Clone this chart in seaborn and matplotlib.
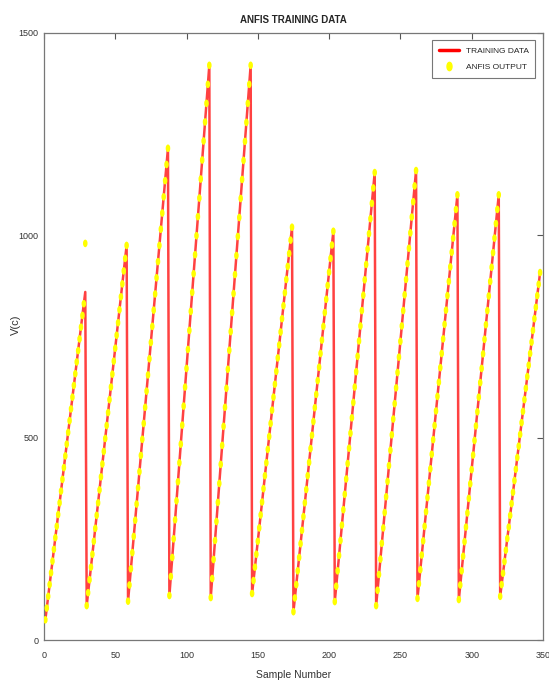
import pandas as pd
import matplotlib
matplotlib.use("Agg")
import matplotlib.pyplot as plt
import seaborn as sns
from matplotlib.path import Path
from matplotlib.transforms import Affine2D
from matplotlib.lines import Line2D

# training data, one list per sawtooth ramp
ramp1 = [50, 79, 108, 137, 166, 195, 224, 253, 281, 310, 339, 368, 397, 426, 455,
         484, 513, 542, 571, 600, 629, 658, 687, 715, 744, 773, 802, 831, 860]
ramp2 = [85, 117, 149, 180, 212, 244, 276, 308, 339, 371, 403, 435, 466, 498, 530,
         562, 594, 625, 657, 689, 721, 753, 784, 816, 848, 880, 912, 943, 975]
ramp3 = [96, 136, 176, 216, 256, 296, 336, 376, 416, 456, 496, 535, 575, 615, 655,
         695, 735, 775, 815, 855, 895, 935, 975, 1015, 1055, 1095, 1135, 1175, 1215]
ramp4 = [110, 157, 204, 250, 297, 344, 391, 438, 484, 531, 578, 625, 671, 718, 765,
         812, 859, 905, 952, 999, 1046, 1092, 1139, 1186, 1233, 1280, 1326, 1373, 1420]
ramp5 = [105, 152, 199, 246, 293, 340, 387, 434, 481, 528, 575, 622, 669, 716, 762,
         809, 856, 903, 950, 997, 1044, 1091, 1138, 1185, 1232, 1279, 1326, 1373, 1420]
ramp6 = [115, 147, 180, 212, 244, 277, 309, 341, 374, 406, 438, 471, 503, 535, 568,
         600, 632, 664, 697, 729, 761, 794, 826, 858, 891, 923, 955, 988, 1020]
ramp7 = [70, 104, 137, 171, 204, 238, 271, 305, 339, 372, 406, 439, 473, 506, 540,
         574, 607, 641, 674, 708, 741, 775, 809, 842, 876, 909, 943, 976, 1010]
ramp8 = [95, 133, 171, 209, 246, 284, 322, 360, 398, 436, 474, 511, 549, 587, 625,
         663, 701, 739, 776, 814, 852, 890, 928, 966, 1004, 1041, 1079, 1117, 1155]
ramp9 = [85, 123, 162, 200, 239, 277, 315, 354, 392, 431, 469, 507, 546, 584, 623,
         661, 699, 738, 776, 814, 853, 891, 930, 968, 1006, 1045, 1083, 1122, 1160]
ramp10 = [103, 139, 174, 210, 245, 281, 317, 352, 388, 423, 459, 495, 530, 566, 602,
          637, 673, 708, 744, 780, 815, 851, 886, 922, 958, 993, 1029, 1064, 1100]
ramp11 = [100, 136, 171, 207, 243, 279, 314, 350, 386, 421, 457, 493, 529, 564, 600,
          636, 671, 707, 743, 779, 814, 850, 886, 921, 957, 993, 1029, 1064, 1100]
ramp12 = [108, 137, 165, 194, 222, 251, 279, 308, 337, 365, 394, 422, 451, 479, 508,
          537, 565, 594, 622, 651, 679, 708, 736, 765, 794, 822, 851, 879, 908]

training = (ramp1 + ramp2 + ramp3 + ramp4 + ramp5 + ramp6 + ramp7 + ramp8
            + ramp9 + ramp10 + ramp11 + ramp12)

# ANFIS output follows the training data except where it overshoots
anfis_overshoot = {29: 980}

samples = list(range(1, len(training) + 1))
anfis = [anfis_overshoot.get(s, v) for s, v in zip(samples, training)]

df = pd.DataFrame({"sample": samples, "training": training, "anfis": anfis})

sns.set_style("white")
plt.rcParams["font.family"] = ["Liberation Sans", "DejaVu Sans"]

fig = plt.figure(figsize=(5.49, 6.86), dpi=100)
ax = fig.add_axes([0.080, 0.067, 0.909, 0.885])

sns.lineplot(data=df, x="sample", y="training", color="#ff2020", lw=1.8,
             alpha=0.85, ax=ax)

ellipse = Path.unit_circle().transformed(Affine2D().scale(0.6, 1.0))
sns.scatterplot(data=df, x="sample", y="anfis", color="#ffff00", marker=ellipse,
                s=30, edgecolor="none", linewidth=0, ax=ax, zorder=3)

ax.set_xlim(0, 350)
ax.set_ylim(0, 1500)
ax.set_xticks(range(0, 351, 50))
ax.set_yticks([0, 500, 1000, 1500])
ax.tick_params(direction="in", length=4, width=0.8, colors="#555555",
               labelsize=6.5, top=True, right=True, labelcolor="#333333")
ax.tick_params(axis="x", pad=8)
ax.tick_params(axis="y", pad=4)
for s in ax.spines.values():
    s.set_color("#777777")
    s.set_linewidth(0.9)

ax.set_title("ANFIS TRAINING DATA", fontsize=7, fontweight="bold", pad=7)
ax.set_xlabel("Sample Number", fontsize=7.5, color="#333333", labelpad=7)
ax.set_ylabel("V(c)", fontsize=8, color="#333333")
ax.yaxis.set_label_coords(-0.046, 0.52)

handles = [Line2D([], [], color="#ff0000", lw=2.5),
           Line2D([], [], color="#ffff00", lw=0, marker=ellipse, markersize=6)]
leg = ax.legend(handles, ["TRAINING DATA", "ANFIS OUTPUT"], loc="upper right",
                fontsize=6, frameon=True, fancybox=False, handlelength=2.4,
                labelspacing=1.0, borderpad=0.8, borderaxespad=0.9,
                edgecolor="#555555")
leg.get_frame().set_linewidth(0.8)

fig.savefig("out.png", dpi=100)
